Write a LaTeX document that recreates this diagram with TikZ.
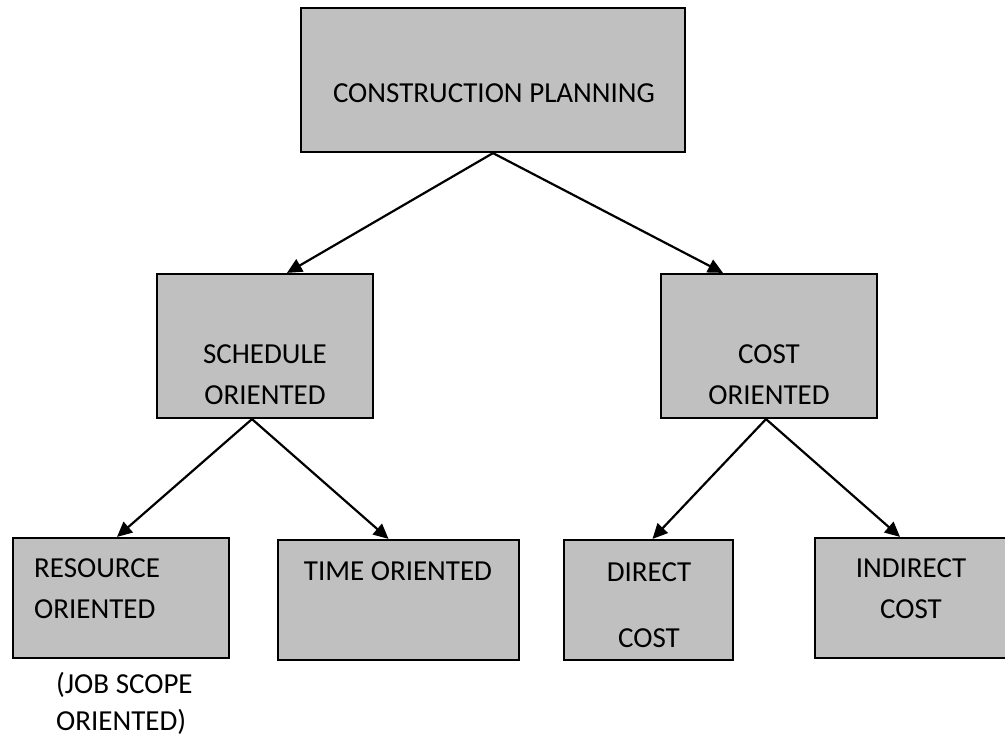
\documentclass[tikz,border=0pt]{standalone}
\usepackage{fontspec}
\setmainfont{Carlito}
\usetikzlibrary{arrows.meta}
\definecolor{boxgray}{HTML}{C0C0C0}
\begin{document}
\begin{tikzpicture}[x=1pt,y=-1pt,line cap=round,>={Triangle[length=15pt,width=14pt]},
  box/.style={draw,fill=boxgray,line width=2.2pt,inner sep=0pt},
  txt/.style={font=\fontsize{29}{41}\selectfont,inner sep=0pt,anchor=base,align=center},
  link/.style={->,line width=2.2pt}]
\useasboundingbox (0,0) rectangle (1005,736);
\clip (0,0) rectangle (1005,736);
% boxes
\node[box,minimum width=384pt,minimum height=144pt] (plan) at (493,80) {};
\node[box,minimum width=216pt,minimum height=144pt] (sched) at (265,346) {};
\node[box,minimum width=216pt,minimum height=144pt] (cost) at (769,346) {};
\node[box,minimum width=216pt,minimum height=120pt] (res) at (121,598) {};
\node[box,minimum width=241pt,minimum height=120pt] (time) at (398.5,600) {};
\node[box,minimum width=169pt,minimum height=120pt] (direct) at (648.5,600) {};
\node[box,minimum width=200pt,minimum height=120pt] (indirect) at (915,598) {};
% texts (base = last line)
\node[txt] (plan-t) at (494,102) {CONSTRUCTION PLANNING};
\node[txt] (sched-t) at (265,404) {SCHEDULE\\ORIENTED};
\node[txt] (cost-t) at (769,404) {COST\\ORIENTED};
\node[txt,anchor=base west,align=left] (res-t) at (34,618) {RESOURCE\\ORIENTED};
\node[txt] (time-t) at (398,580) {TIME ORIENTED};
\node[txt] (direct-t) at (649,647) {DIRECT\\[25pt]COST};
\node[txt] (indirect-t) at (911,618) {INDIRECT\\COST};
\node[txt,anchor=base west,align=left,font=\fontsize{29}{37}\selectfont] (job-t) at (56,730) {(JOB SCOPE\\ORIENTED)};
% arrows
\draw[link] (plan.south) -- ([xshift=22pt]sched.north);
\draw[link] (plan.south) -- ([xshift=-46pt]cost.north);
\draw[link] ([xshift=-13pt]sched.south) -- ([xshift=-4pt]res.north);
\draw[link] ([xshift=-13pt]sched.south) -- ([xshift=-10pt]time.north);
\draw[link] ([xshift=-3pt]cost.south) -- ([xshift=4pt]direct.north);
\draw[link] ([xshift=-3pt]cost.south) -- ([xshift=-15pt]indirect.north);
\end{tikzpicture}
\end{document}
